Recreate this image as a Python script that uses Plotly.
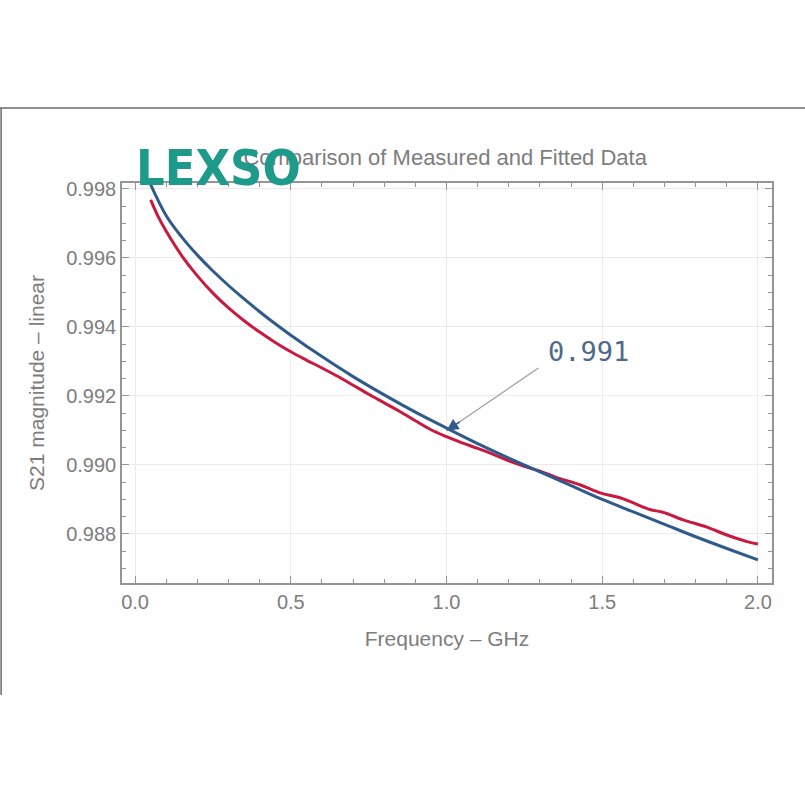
import plotly.graph_objects as go

# Fitted (blue) curve
fit_x = [0.05, 0.10, 0.15, 0.20, 0.25, 0.30, 0.35, 0.40, 0.45, 0.50, 0.60, 0.70, 0.80, 0.90,
         1.00, 1.10, 1.20, 1.30, 1.40, 1.50, 1.60, 1.70, 1.80, 1.90, 2.00]
fit_y = [0.99812, 0.99722, 0.99660, 0.99608, 0.99562, 0.99520, 0.99481, 0.99444, 0.99409, 0.99376,
         0.99314, 0.99256, 0.99203, 0.99153, 0.99107, 0.99062, 0.99020, 0.98980, 0.98940, 0.98900,
         0.98864, 0.98828, 0.98792, 0.98758, 0.98725]

# Measured (red) curve
meas_x = [0.05, 0.075, 0.10, 0.15, 0.20, 0.25, 0.30, 0.35, 0.40, 0.45, 0.50, 0.55, 0.60, 0.65,
          0.70, 0.75, 0.80, 0.85, 0.90, 0.95, 1.00, 1.05, 1.10, 1.15, 1.20, 1.25, 1.30, 1.35,
          1.43, 1.493, 1.557, 1.60, 1.653, 1.695, 1.76, 1.836, 1.90, 1.965, 2.00]
meas_y = [0.99768, 0.99718, 0.99677, 0.99606, 0.99548, 0.99498, 0.99455, 0.99418, 0.99385, 0.99355,
          0.99328, 0.99304, 0.99281, 0.99257, 0.99231, 0.99205, 0.99180, 0.99155, 0.99128, 0.99102,
          0.99082, 0.99064, 0.99048, 0.99031, 0.99012, 0.98996, 0.98982, 0.98965, 0.98942, 0.98919,
          0.98905, 0.98890, 0.98871, 0.98863, 0.98841, 0.98820, 0.98797, 0.98778, 0.98771]

x_ticks = [0.0, 0.5, 1.0, 1.5, 2.0]
x_tick_labels = ["0.0", "0.5", "1.0", "1.5", "2.0"]
y_ticks = [0.988, 0.990, 0.992, 0.994, 0.996, 0.998]
y_tick_labels = ["0.988", "0.990", "0.992", "0.994", "0.996", "0.998"]

note_point = (1.0, 0.99099)
note_tail = (1.30, 0.99284)
note_text = "0.991"

GREY = "#7d7d7d"
AX = "#959595"
FONT = "Liberation Sans, Arial"

fig = go.Figure()
fig.add_trace(go.Scatter(x=meas_x, y=meas_y, mode="lines",
                         line=dict(color="#c8193f", width=3, shape="spline", smoothing=1.0),
                         showlegend=False))
fig.add_trace(go.Scatter(x=fit_x, y=fit_y, mode="lines",
                         line=dict(color="#2f5a8c", width=3, shape="spline", smoothing=1.0),
                         showlegend=False))

axis_common = dict(showline=True, linecolor=AX, linewidth=1.5, mirror="ticks",
                   ticks="inside", ticklen=7, tickcolor=AX, tickwidth=1.2,
                   showgrid=True, gridcolor="#ebebeb", gridwidth=1, zeroline=False,
                   tickfont=dict(family=FONT, size=20, color=GREY))

fig.update_xaxes(range=[-0.042, 2.045], tickmode="array", tickvals=x_ticks, ticktext=x_tick_labels,
                 minor=dict(dtick=0.1, tick0=0, ticks="inside", ticklen=4, tickcolor=AX, showgrid=False),
                 title=dict(text="Frequency – GHz", standoff=20,
                            font=dict(family=FONT, size=21, color=GREY)),
                 **axis_common)
fig.update_yaxes(range=[0.98658, 0.99817], tickmode="array", tickvals=y_ticks, ticktext=y_tick_labels,
                 minor=dict(dtick=0.0005, tick0=0.988, ticks="inside", ticklen=4, tickcolor=AX, showgrid=False),
                 title=dict(text="S21 magnitude – linear", standoff=16,
                            font=dict(family=FONT, size=21, color=GREY)),
                 **axis_common)

fig.update_layout(
    width=805, height=805,
    margin=dict(l=122, r=33, t=183, b=222),
    paper_bgcolor="white", plot_bgcolor="white",
    title=dict(text="Comparison of Measured and Fitted Data", x=0.553, xanchor="center",
               y=0.805, yanchor="middle",
               font=dict(family=FONT, size=22, color=GREY)),
)

# grey arrow line
fig.add_annotation(x=note_point[0], y=note_point[1], ax=note_tail[0], ay=note_tail[1],
                   axref="x", ayref="y", xref="x", yref="y", text="", showarrow=True,
                   arrowhead=0, arrowwidth=1.3, arrowcolor="#a0a0a0")
# blue arrowhead
fig.add_annotation(x=note_point[0], y=note_point[1], ax=1.047, ay=0.99128,
                   axref="x", ayref="y", xref="x", yref="y", text="", showarrow=True,
                   arrowhead=2, arrowsize=1.6, arrowwidth=1.5, arrowcolor="#2f5a8c")
fig.add_annotation(x=1.455, y=0.99330, xref="x", yref="y", text=note_text, showarrow=False,
                   font=dict(family="DejaVu Sans Mono", size=27, color="#4d6a8c"))

# logo
fig.add_annotation(x=0.149, y=1.0375, xref="paper", yref="paper", xanchor="center", yanchor="middle",
                   text="LEXSO", showarrow=False,
                   font=dict(family="DejaVu Sans Condensed, Liberation Sans", size=50,
                             color="#1d9a89", weight="bold"))

# video frame lines
fig.add_shape(type="line", xref="paper", yref="paper", x0=-0.19, x1=1.06, y0=1.1875, y1=1.1875,
              line=dict(color="#6a6a6a", width=1.5))
fig.add_shape(type="line", xref="paper", yref="paper", x0=-0.186, x1=-0.186, y0=1.1875, y1=-0.28,
              line=dict(color="#6a6a6a", width=1.5))

fig.write_html("out.html")
